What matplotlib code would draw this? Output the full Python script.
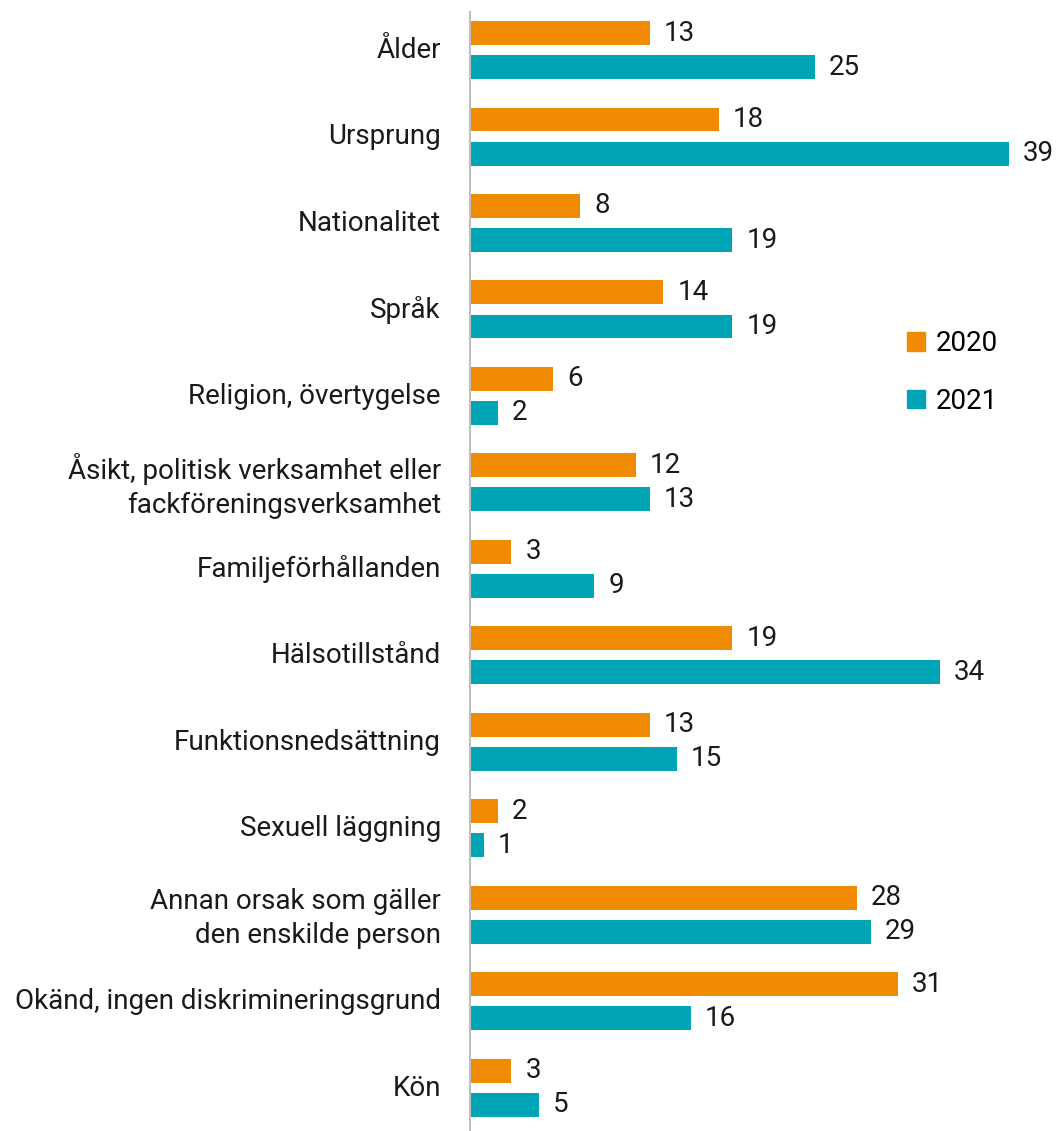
import numpy as np
import matplotlib.pyplot as plt
from matplotlib.patches import Patch

plt.rcParams['font.family'] = ['Roboto', 'DejaVu Sans']

categories = ['Ålder', 'Ursprung', 'Nationalitet', 'Språk', 'Religion, övertygelse',
              'Åsikt, politisk verksamhet eller\nfackföreningsverksamhet',
              'Familjeförhållanden', 'Hälsotillstånd', 'Funktionsnedsättning',
              'Sexuell läggning', 'Annan orsak som gäller\nden enskilde person',
              'Okänd, ingen diskrimineringsgrund', 'Kön']
v2020 = [13, 18, 8, 14, 6, 12, 3, 19, 13, 2, 28, 31, 3]
v2021 = [25, 39, 19, 19, 2, 13, 9, 34, 15, 1, 29, 16, 5]

c2020 = '#F08A00'
c2021 = '#00A5B5'
fs = 20

fig = plt.figure(figsize=(10.57, 11.31), dpi=100)
ax = fig.add_axes([470 / 1057, 0, 1 - 470 / 1057, 1 - 12 / 1131])

y = np.arange(len(categories))
h = 0.277
off = 0.197
b1 = ax.barh(y - off, v2020, height=h, color=c2020)
b2 = ax.barh(y + off, v2021, height=h, color=c2021)

for bars, vals in [(b1, v2020), (b2, v2021)]:
    for b, v in zip(bars, vals):
        ax.annotate(str(v), (b.get_width(), b.get_y() + b.get_height() / 2),
                    xytext=(10, 0), textcoords='offset points',
                    va='center', ha='left', fontsize=fs, color='#1a1a1a')

ax.set_xlim(0, 42.5)
ax.set_ylim(12.5, -0.44)
ax.set_yticks(y - 0.03)
ax.set_yticklabels(categories, fontsize=fs, color='#1a1a1a', linespacing=1.3)
ax.tick_params(axis='y', length=0, pad=21)
ax.set_xticks([])
for s in ['top', 'right', 'bottom']:
    ax.spines[s].set_visible(False)
ax.spines['left'].set_color('#bfbfbf')
ax.spines['left'].set_linewidth(1.5)

handles = [Patch(color=c2020, label='2020'), Patch(color=c2021, label='2021')]
fig.legend(handles=handles, loc='upper left', bbox_to_anchor=(882 / 1057, 1 - 305 / 1131),
           frameon=False, fontsize=fs, handlelength=0.65, handleheight=0.65,
           handletextpad=0.4, labelspacing=1.1)

fig.savefig('out.png', dpi=100)
